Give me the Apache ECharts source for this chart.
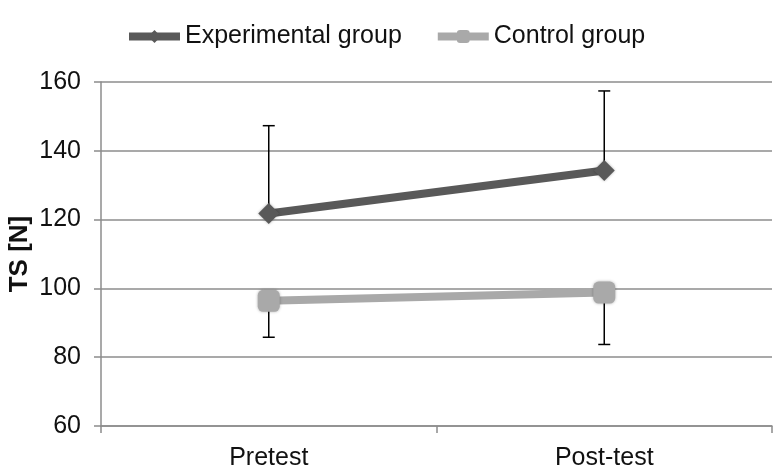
<!DOCTYPE html>
<html>
<head>
<meta charset="utf-8">
<script src="https://cdn.jsdelivr.net/npm/echarts@6/dist/echarts.min.js"></script>
<style>html,body{margin:0;padding:0;background:#fff}#c{width:777px;height:472px}</style>
</head>
<body>
<div id="c"></div>
<script>
const categories = ['Pretest', 'Post-test'];
const seriesNames = ['Experimental group', 'Control group'];
const experimental = [121.8, 134.3];
const experimentalUpper = [147.3, 157.4];
const control = [96.4, 98.8];
const controlLower = [85.8, 83.7];
const yTicks = [60, 80, 100, 120, 140, 160];
const yTitle = 'TS [N]';

const FONT = '"Liberation Sans", Arial, sans-serif';
const chart = echarts.init(document.getElementById('c'), null, {renderer: 'canvas'});

function errData(vals, ends) {
  return vals.map((v, i) => [i, v, ends[i]]);
}
function errRender(params, api) {
  const x = api.value(0);
  const p0 = api.coord([x, api.value(1)]);
  const p1 = api.coord([x, api.value(2)]);
  const cap = 6;
  const style = {stroke: '#000', lineWidth: 1.5};
  return {
    type: 'group',
    children: [
      {type: 'line', shape: {x1: p0[0], y1: p0[1], x2: p1[0], y2: p1[1]}, style: style},
      {type: 'line', shape: {x1: p1[0] - cap, y1: p1[1], x2: p1[0] + cap, y2: p1[1]}, style: style}
    ]
  };
}

chart.setOption({
  animation: false,
  backgroundColor: '#fff',
  legend: {
    left: 120,
    top: 19,
    itemWidth: 51,
    itemHeight: 16,
    itemGap: 32,
    textStyle: {fontFamily: FONT, fontSize: 25, color: '#111'},
    data: [
      {name: seriesNames[0], lineStyle: {width: 8, color: '#595959'}},
      {name: seriesNames[1], lineStyle: {width: 8, color: '#a9a9a9'}}
    ]
  },
  grid: {left: 101, right: 5, top: 82, bottom: 46, containLabel: false, outerBoundsMode: 'none'},
  xAxis: {
    type: 'category',
    data: categories,
    boundaryGap: true,
    axisLine: {lineStyle: {color: '#8c8c8c', width: 1.5}},
    axisTick: {show: true, length: 7, lineStyle: {color: '#8c8c8c', width: 1.5}},
    axisLabel: {fontFamily: FONT, fontSize: 25, color: '#111', margin: 20}
  },
  yAxis: {
    type: 'value',
    min: yTicks[0],
    max: yTicks[yTicks.length - 1],
    interval: 20,
    name: yTitle,
    nameLocation: 'middle',
    nameGap: 68,
    nameMoveOverlap: false,
    nameRotate: 90,
    nameTextStyle: {fontFamily: FONT, fontSize: 26, fontWeight: 'bold', color: '#111'},
    axisLine: {show: true, lineStyle: {color: '#8c8c8c', width: 1.5}},
    axisTick: {show: true, length: 7, lineStyle: {color: '#8c8c8c', width: 1.5}},
    axisLabel: {fontFamily: FONT, fontSize: 25, color: '#111', margin: 20},
    splitLine: {show: true, lineStyle: {color: '#8c8c8c', width: 1.5}}
  },
  series: [
    {
      type: 'custom',
      name: 'errExp',
      renderItem: errRender,
      data: errData(experimental, experimentalUpper),
      z: 1,
      silent: true
    },
    {
      type: 'custom',
      name: 'errCtl',
      renderItem: errRender,
      data: errData(control, controlLower),
      z: 1,
      silent: true
    },
    {
      name: seriesNames[0],
      type: 'line',
      data: experimental,
      symbol: 'diamond',
      symbolSize: 21,
      lineStyle: {color: '#595959', width: 8},
      itemStyle: {color: '#595959', shadowBlur: 3, shadowColor: 'rgba(0,0,0,0.3)'},
      z: 3
    },
    {
      name: seriesNames[1],
      type: 'line',
      data: control,
      symbol: 'roundRect',
      symbolSize: 22,
      lineStyle: {color: '#a9a9a9', width: 8},
      itemStyle: {color: '#a9a9a9', shadowBlur: 3, shadowColor: 'rgba(0,0,0,0.3)'},
      z: 2
    }
  ]
});
</script>
</body>
</html>
